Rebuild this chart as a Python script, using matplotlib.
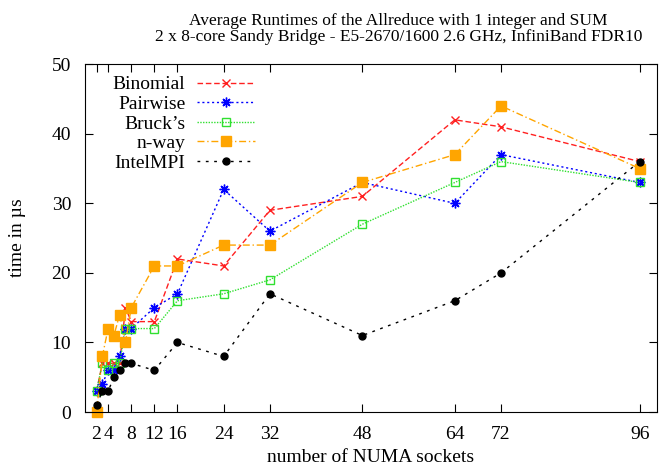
import matplotlib.pyplot as plt

# number of NUMA sockets
sockets = [2, 3, 4, 5, 6, 7, 8, 12, 16, 24, 32, 48, 64, 72, 96]

# runtimes in microseconds
binomial = [3, 7, 7, 7, 7, 15, 13, 13, 22, 21, 29, 31, 42, 41, 36]
pairwise = [3, 4, 6, 6, 8, 12, 12, 15, 17, 32, 26, 33, 30, 37, 33]
brucks = [3, 7, 6, 7, 7, 12, 12, 12, 16, 17, 19, 27, 33, 36, 33]
nway = [0, 8, 12, 11, 14, 10, 15, 21, 21, 24, 24, 33, 37, 44, 35]
intelmpi = [1, 3, 3, 5, 6, 7, 7, 6, 10, 8, 17, 11, 16, 20, 36]

xticks = [2, 4, 8, 12, 16, 24, 32, 48, 64, 72, 96]

plt.rcParams['font.family'] = ['Liberation Serif', 'DejaVu Serif']
plt.rcParams['font.size'] = 11

fig = plt.figure(figsize=(6.61, 4.72), dpi=100)
ax = fig.add_axes([0.1286, 0.127, 0.8654, 0.737])

ax.plot(sockets, binomial, color='#ff2020', lw=1, dashes=(4, 2), marker='x', ms=6, mew=1, label='Binomial')
ax.plot(sockets, pairwise, color='#0000ff', lw=1, dashes=(1.5, 2), marker=(8, 2, 0), ms=7, mew=1, label='Pairwise')
ax.plot(sockets, brucks, color='#30e030', lw=1, dashes=(1, 1), marker='s', ms=6, mfc='none', mew=1, label="Bruck\u2019s")
ax.plot(sockets, nway, color='#ffa500', lw=1, dashes=(5, 2, 1, 2), marker='s', ms=7, label='n-way', clip_on=False)
ax.plot(sockets, intelmpi, color='black', lw=1, dashes=(2, 4), marker='o', ms=5, label='IntelMPI')

ax.set_xlim(0, 99)
ax.set_ylim(0, 50)
ax.set_xticks(xticks)
ax.set_yticks(range(0, 51, 10))
ax.tick_params(direction='in', top=True, right=True, length=6, labelsize=14, pad=10)

ax.set_title('Average Runtimes of the Allreduce with 1 integer and SUM\n'
             '2 x 8-core Sandy Bridge - E5-2670/1600 2.6 GHz, InfiniBand FDR10',
             fontsize=12.5, linespacing=1.0, pad=17, x=0.548)
ax.set_xlabel('number of NUMA sockets', fontsize=14, labelpad=4)
ax.set_ylabel('time in \u00b5s', fontsize=14, labelpad=18)

ax.legend(loc='upper left', frameon=False, markerfirst=False, fontsize=14,
          handlelength=3.0, handletextpad=0.6, labelspacing=0.1,
          borderaxespad=0.2, bbox_to_anchor=(0.028, 1.0))

fig.savefig('out.png', dpi=100)
